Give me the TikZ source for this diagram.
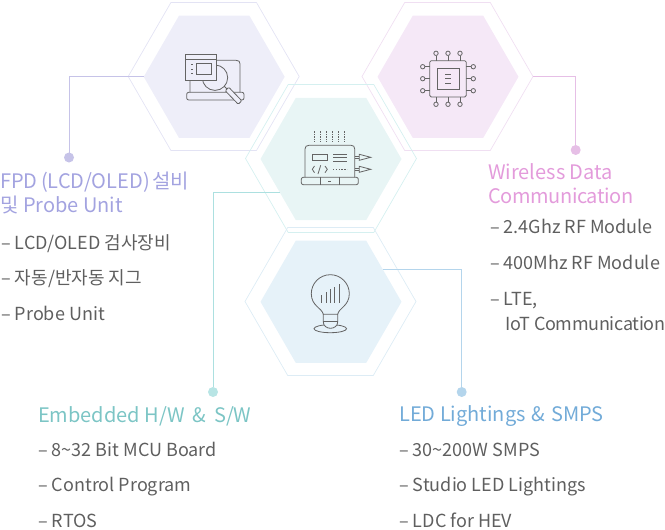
\documentclass[tikz,border=0pt]{standalone}
\usepackage{fontspec}
\setmainfont{Noto Sans CJK KR}
\usetikzlibrary{shapes.geometric}
\definecolor{purpfill}{RGB}{238,238,249}
\definecolor{purpedge}{RGB}{227,227,244}
\definecolor{purpline}{RGB}{198,195,232}
\definecolor{purptext}{RGB}{163,163,224}
\definecolor{pinkfill}{RGB}{245,232,247}
\definecolor{pinkedge}{RGB}{240,223,242}
\definecolor{pinkline}{RGB}{230,191,230}
\definecolor{pinktext}{RGB}{227,155,219}
\definecolor{tealfill}{RGB}{232,245,245}
\definecolor{tealedge}{RGB}{213,240,240}
\definecolor{tealline}{RGB}{172,224,224}
\definecolor{tealtext}{RGB}{124,197,197}
\definecolor{bluefill}{RGB}{230,242,249}
\definecolor{blueedge}{RGB}{221,236,245}
\definecolor{blueline}{RGB}{180,213,236}
\definecolor{bluetext}{RGB}{114,171,216}
\definecolor{icongray}{RGB}{100,100,100}
\definecolor{listgray}{RGB}{95,95,95}
\tikzset{
  hexouter/.style={regular polygon, regular polygon sides=6, minimum size=171pt, inner sep=0pt, outer sep=0pt, line width=0.7pt},
  hexinner/.style={regular polygon, regular polygon sides=6, minimum size=141pt, inner sep=0pt, outer sep=0pt},
  enddot/.style={circle, minimum size=10pt, inner sep=0pt, outer sep=0pt},
  headtext/.style={anchor=base west, inner sep=0pt, font=\fontsize{20}{24}\selectfont},
  listtext/.style={anchor=base west, inner sep=0pt, text=listgray, font=\fontsize{18}{20}\selectfont},
  iconline/.style={draw=icongray, line width=0.8pt}
}

\begin{document}
\begin{tikzpicture}[x=1pt, y=-1pt]
\useasboundingbox (0,0) rectangle (665,530);

%% ── hexagons ─────────────────────────────────────────────────────
\node[hexouter, draw=purpedge] (hexouta) at (213.7,76.5) {};
\node[hexouter, draw=pinkedge] (hexoutb) at (447.5,76.5) {};
\node[hexouter, draw=tealedge] (hexoutc) at (331,158.5) {};
\node[hexouter, draw=blueedge] (hexoutd) at (330.5,301.5) {};
\node[hexinner, fill=purpfill] (hexa) at (214.2,76.8) {};
\node[hexinner, fill=pinkfill] (hexb) at (448,76.8) {};
\node[hexinner, fill=tealfill] (hexc) at (331,159) {};
\node[hexinner, fill=bluefill] (hexd) at (331,301.8) {};

%% ── end dots and leader lines ────────────────────────────────────
\node[enddot, fill=purpline] (dota) at (69,157.5) {};
\node[enddot, fill=pinkline] (dotb) at (575.7,150) {};
\node[enddot, fill=tealline!85!white] (dotc) at (213,392) {};
\node[enddot, fill=blueline] (dotd) at (461.7,392) {};
\draw[purpline, line width=0.8pt] (hexa.west) -| (dota);
\draw[pinkline, line width=0.8pt] (hexoutb.east) -| (dotb);
\draw[tealline, line width=0.8pt] (hexc.213.3) -| (dotc);
\draw[blueline, line width=0.8pt] (hexd.32) -| (dotd);

%% ── icon: laptop and magnifier ───────────────────────────────────
\draw[iconline] (190,92.3) -- (190,60.3) -- (236,60.3) .. controls (239,60.3) and (240,61.5) .. (240,64) -- (240,92.3);
\draw[iconline, rounded corners=2pt] (186.7,92.3) -- (244,92.3) -- (244,100) -- (186.7,100) -- cycle;
\draw[iconline] (215,77.7) circle (12.7pt);
\draw[iconline, fill=purpfill] (185.3,54.3) rectangle (216.7,80.3);
\draw[iconline] (185.3,59) -- (216.7,59);
\draw[iconline] (196,63.3) rectangle (211,74.7);
\foreach \y in {64.3,69,73.7}{\draw[iconline] (191,\y) -- (193.3,\y);}
\draw[iconline] (224,86) -- (227,89);
\draw[iconline, fill=purpfill, rounded corners=1pt] (228.8,87.3) -- (241.8,100.8) -- (238.2,104.2) -- (225.2,90.7) -- cycle;

%% ── icon: chip ───────────────────────────────────────────────────
\draw[iconline, rounded corners=1.5pt] (429.7,60.7) rectangle (466.3,97);
\draw[iconline, line width=1pt] (437,68) rectangle (459,89.7);
\foreach \y in {74,78.7,83.3}{\draw[iconline, line width=1pt] (445.3,\y) -- (450.7,\y);}
\foreach \x in {436,448,460}{
  \draw[iconline] (\x,55.5) -- (\x,60.7);
  \draw[iconline] (\x,97) -- (\x,102);
  \draw[iconline] (\x,53.3) circle (2.2pt);
  \draw[iconline] (\x,104.3) circle (2.2pt);
}
\foreach \y in {66.7,78.7,90.7}{
  \draw[iconline] (425,\y) -- (429.7,\y);
  \draw[iconline] (466.3,\y) -- (471,\y);
  \draw[iconline] (422.7,\y) circle (2.2pt);
  \draw[iconline] (473.3,\y) circle (2.2pt);
}

%% ── icon: laptop with code ───────────────────────────────────────
\foreach \x in {314.7,320.7,326.7,332.7,338.7,344.7}{\draw[iconline, dash pattern=on 1.4pt off 1.1pt] (\x,131.3) -- (\x,142);}
\draw[iconline] (305,177.3) -- (305,149) .. controls (305,146.5) and (306.5,145.3) .. (309,145.3) -- (351,145.3) .. controls (353.5,145.3) and (354.7,146.5) .. (354.7,149) -- (354.7,177.3);
\draw[iconline, rounded corners=2pt] (301.3,177.3) -- (358.3,177.3) -- (358.3,184.7) -- (301.3,184.7) -- cycle;
\draw[iconline] (320.7,177.3) -- (320.7,184.7);
\draw[iconline] (339.3,177.3) -- (339.3,184.7);
\draw[iconline] (328.3,180.9) -- (331,180.9);
\draw[iconline] (312.3,154) rectangle (327.7,160.3);
\foreach \y in {154,157.3,161.3}{\draw[iconline] (333,\y) -- (347,\y);}
\draw[iconline] (314.5,166) -- (312.3,169.3) -- (314.5,172.7);
\draw[iconline] (320.7,165.3) -- (318,174);
\draw[iconline] (325,166) -- (327.3,169.3) -- (325,172.7);
\draw[iconline, dash pattern=on 1.4pt off 1.4pt] (333,169) -- (347,169);
\foreach \y in {157.3,169.3}{
  \draw[iconline] (354.7,\y-1) -- (359.3,\y-1);
  \draw[iconline] (354.7,\y+1) -- (359.3,\y+1);
  \draw[iconline] (359.3,\y-3) -- (370.7,\y) -- (359.3,\y+3) -- cycle;
}

%% ── icon: bulb ───────────────────────────────────────────────────
\draw[iconline] (323.3,314.3) .. controls (322,308) and (311.3,306) .. (311.3,293.7) .. controls (311.3,283.2) and (319.8,274.7) .. (330.3,274.7) .. controls (340.8,274.7) and (349.3,283.2) .. (349.3,293.7) .. controls (349.3,306) and (338.7,308) .. (337.7,314.3);
\draw[iconline] (330.3,328.7) ellipse (16.3pt and 4pt);
\draw[iconline, fill=bluefill] (323.3,314.3) -- (337.7,314.3) -- (337.7,322) .. controls (337.7,326) and (334,328.3) .. (330.5,328.3) .. controls (327,328.3) and (323.3,326) .. (323.3,322) -- cycle;
\draw[iconline] (323.3,321) -- (337.7,321);
\draw[icongray, line width=1pt] (321.7,302.7) -- (321.7,295);
\draw[icongray, line width=1pt] (326,302.7) -- (326,292.3);
\draw[icongray, line width=1pt] (330.3,302.7) -- (330.3,289.3);
\draw[icongray, line width=1pt] (334.7,302.7) -- (334.7,286.7);
\draw[icongray, line width=1pt] (339,302.7) -- (339,284);

%% ── text blocks ──────────────────────────────────────────────────
\node[headtext, text=purptext] (heada) at (0,188) {FPD\hspace{-1pt} (LCD/OLED)\hspace{-2pt} 설비};
\node[headtext, text=purptext] (headaa) at (0,212.3) {및 Probe Unit};
\node[listtext] (lista) at (1,249) {– LCD/OLED 검사장비};
\node[listtext] (listb) at (1,284.5) {– 자동/반자동 지그};
\node[listtext] (listc) at (1,320.5) {– Probe Unit};

\node[headtext, text=pinktext] (headb) at (488,179) {Wireless Data};
\node[headtext, text=pinktext] (headbb) at (488,203) {\addfontfeature{LetterSpace=-2}Communication};
\node[listtext] (listd) at (490,233) {– 2.4Ghz RF Module};
\node[listtext] (liste) at (490,269) {– 400Mhz RF Module};
\node[listtext] (listf) at (490,305.7) {– LTE,};
\node[listtext] (listg) at (505,330) {\addfontfeature{LetterSpace=-1.7}IoT Communication};

\node[headtext, text=tealtext] (headc) at (38,422.3) {Embedded H/W\hspace{3.5pt} \&\hspace{3.5pt} S/W};
\node[listtext] (listh) at (38,456) {– 8\textasciitilde 32 Bit MCU Board};
\node[listtext] (listi) at (38,491.7) {– Control Program};
\node[listtext] (listj) at (38,527.5) {– RTOS};

\node[headtext, text=bluetext] (headd) at (399,421.3) {LED Lightings\hspace{1.5pt} \&\hspace{1.5pt} SMPS};
\node[listtext] (listk) at (399,456) {– 30\textasciitilde 200W SMPS};
\node[listtext] (listl) at (399,491.7) {– Studio LED Lightings};
\node[listtext] (listm) at (399,527.5) {– LDC for HEV};

\end{tikzpicture}
\end{document}
